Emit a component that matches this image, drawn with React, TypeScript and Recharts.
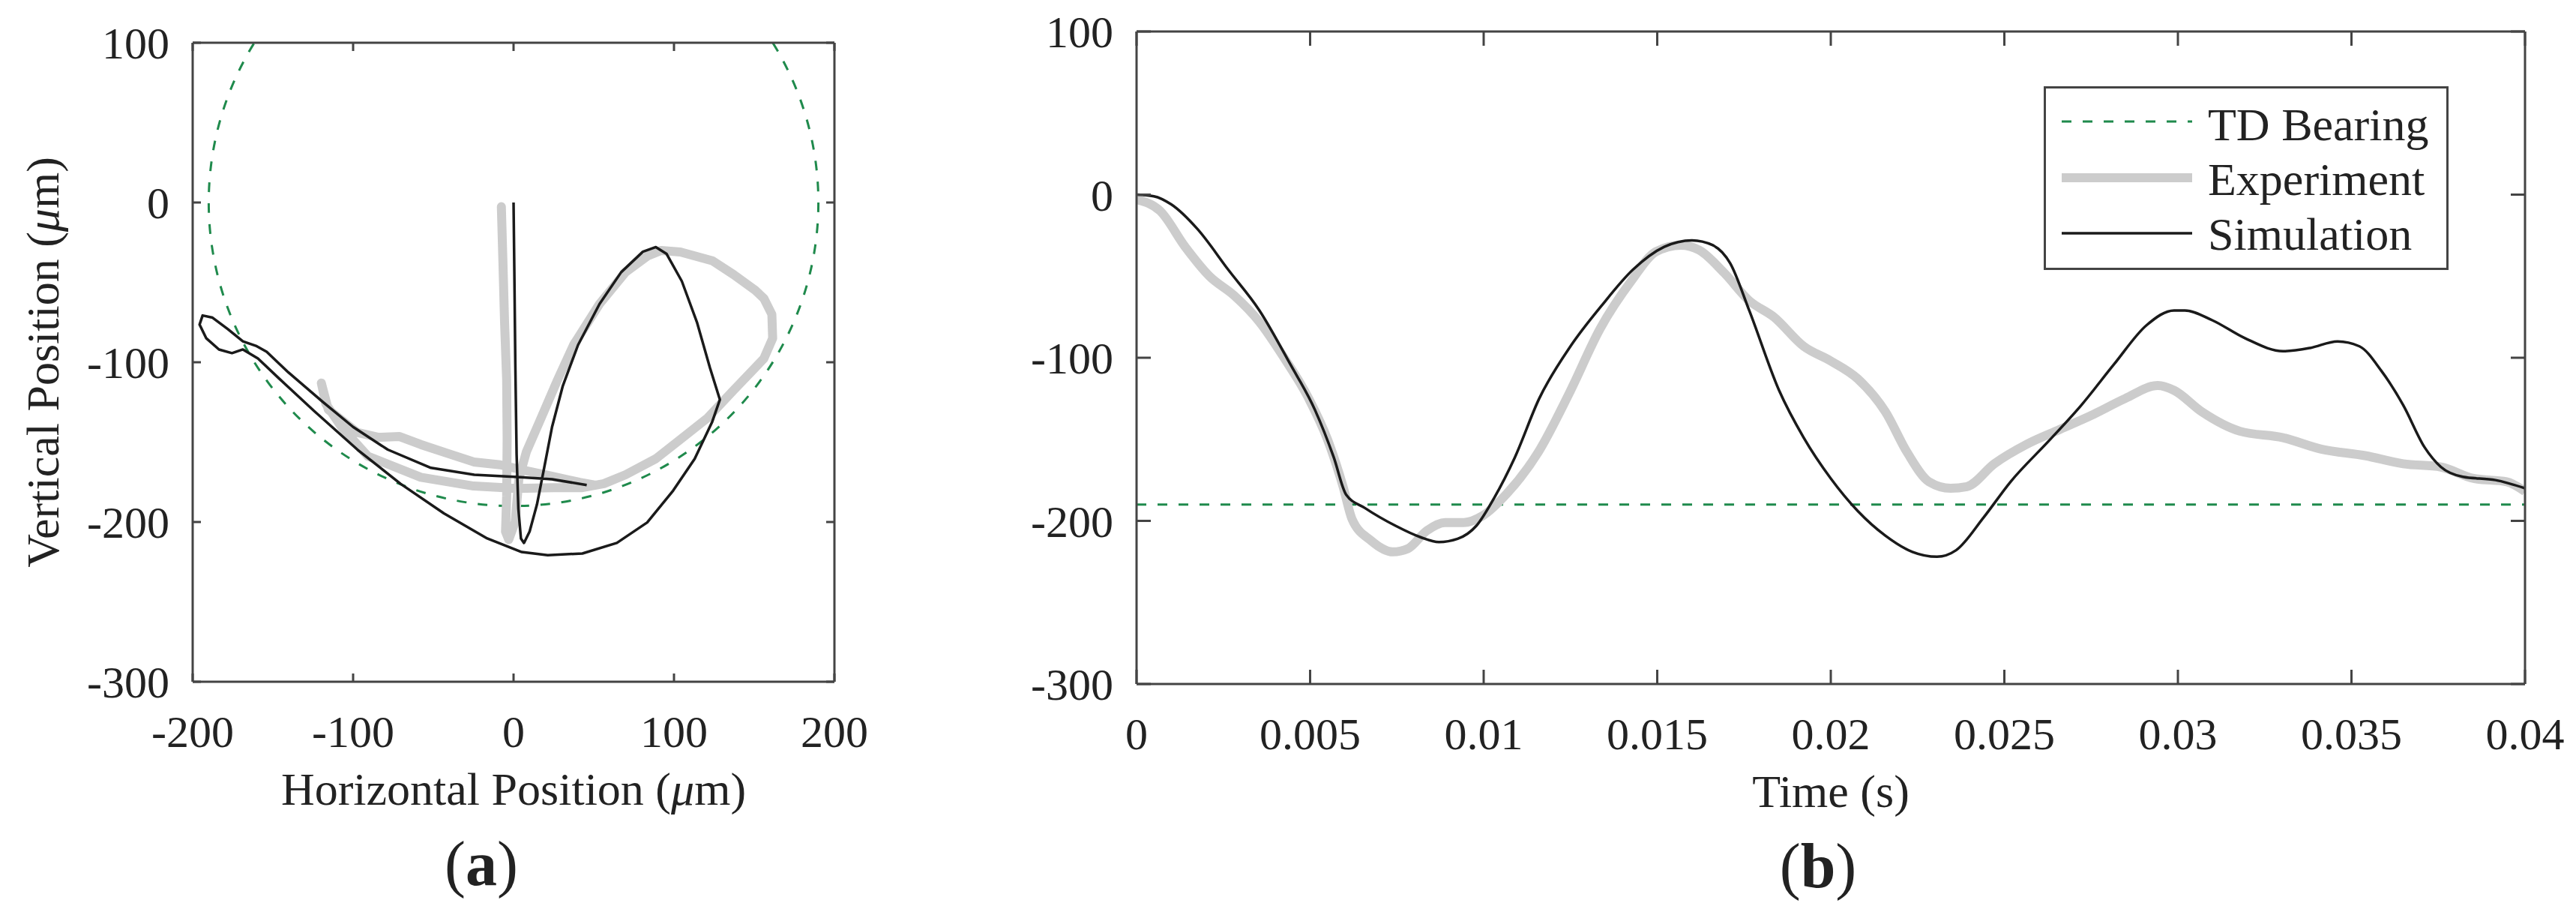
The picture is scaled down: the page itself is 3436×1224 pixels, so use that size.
import React from 'react';
import { LineChart, Line, XAxis, YAxis, ReferenceArea, ReferenceLine, Legend } from 'recharts';

// ---------- styling constants ----------
const FONT = '"Liberation Serif", "Times New Roman", Times, serif';
const TEXT = '#222222';
const AXIS = '#444444';
const GREEN = '#1f8a4c';
const GRAY = '#cccccc';
const BLACK = '#1a1a1a';

// ---------- data ----------
const BEARING_RADIUS = 190; // TD bearing clearance (µm)

const POS_X_TICKS = [-200, -100, 0, 100, 200];
const POS_Y_TICKS = [-300, -200, -100, 0, 100];
const TIME_TICKS = [0, 0.005, 0.01, 0.015, 0.02, 0.025, 0.03, 0.035, 0.04];

// (a) orbit – experiment
const EXP_ORBIT_X = [-7.6, -6.6, -5.6, -4.3, -4, -4.3, -5, -3, 1, 3.3, 8, 16, 27, 37.5, 53.6, 69.8, 83.3, 92, 104, 124, 137, 150.7, 156, 161, 161.5, 156, 137, 121, 104.9, 88.7, 69.8, 56.3, 42.9, 24.8, 2.4, -24.8, -57.8, -90.8, -107.3, -117, -119.8, -115.5, -97.4, -84.2, -71, -57.8, -41.3, -24.8, -8.3, 8.3, 24.8, 41.3, 51];
const EXP_ORBIT_Y = [-2.6, -38, -75, -111, -148, -184, -206, -211, -200, -173, -156, -137.6, -112, -89, -63.5, -43.6, -33.6, -30, -31, -36.5, -45, -55, -60, -70, -85, -97.7, -117.7, -134.8, -147.6, -160.4, -170.4, -176, -178.5, -178.5, -179, -177.5, -172, -158.8, -140.5, -126, -113, -129.6, -144, -147, -146.5, -151.5, -157, -162.4, -164.2, -168, -171.5, -175.2, -177];

// (a) orbit – simulation
const SIM_ORBIT_X = [0, 0.5, 1.1, 1.9, 3.0, 4.6, 6.5, 10, 14.6, 19.1, 24, 30.7, 40.2, 53.6, 67.1, 80.6, 88.7, 95.4, 104.9, 114.3, 122.4, 128.6, 123.7, 112.9, 99.5, 83.3, 64.4, 42.9, 21.3, 5.1, -16.4, -43.4, -70.4, -97.3, -124.3, -145.8, -159.3, -168.7, -175.5, -183.6, -191.6, -195.7, -193.8, -187.6, -178.2, -168.7, -160.6, -153.9, -140.4, -118.9, -100, -78.4, -51.5, -24.5, 2.4, 24, 45.6];
const SIM_ORBIT_Y = [0, -43.6, -100.6, -157.5, -191.7, -210.3, -213.1, -206, -189, -166, -140.5, -114.8, -89.2, -63.5, -43.6, -30.8, -27.9, -32.2, -49.3, -74.9, -103.4, -123.4, -137.6, -160.4, -180.3, -200.3, -213.1, -219.7, -220.8, -218.8, -210.3, -194.6, -176.1, -154.7, -130.5, -110.5, -97.7, -92, -94.3, -92, -84.9, -76.4, -70.7, -72.1, -79.2, -86.9, -89.7, -93.4, -106.3, -124.8, -140.5, -154.7, -166.1, -170.4, -171.8, -173.2, -176.9];

// (b) vertical position vs time – experiment
const EXP_TIME = [0, 0.00068, 0.0014, 0.0021, 0.00282, 0.00354, 0.00425, 0.00496, 0.0055, 0.00595, 0.00621, 0.00675, 0.00738, 0.00782, 0.00836, 0.00889, 0.00943, 0.00996, 0.01068, 0.01157, 0.01246, 0.01336, 0.01425, 0.01496, 0.01568, 0.01621, 0.01693, 0.01765, 0.01836, 0.01922, 0.02, 0.02078, 0.02157, 0.0222, 0.02283, 0.02345, 0.02392, 0.02471, 0.02565, 0.02659, 0.02754, 0.02848, 0.02942, 0.02989, 0.03068, 0.03178, 0.03303, 0.03413, 0.03539, 0.03649, 0.03758, 0.03852, 0.03947, 0.04];
const EXP_VERT = [-3, -10, -32, -50, -62, -78, -100, -125, -150, -179, -199, -212, -219, -217, -206, -201, -201, -197, -183, -158, -122, -82, -53, -35, -31, -34, -48, -65, -75, -93, -102, -113, -133, -158, -176, -180, -179, -165, -153, -144, -135, -125, -117, -120, -133, -145, -149, -156, -160, -165, -167, -174, -176, -182];

// (b) vertical position vs time – simulation
const SIM_TIME = [0, 0.0005, 0.001, 0.00175, 0.00264, 0.00354, 0.00443, 0.00514, 0.00568, 0.00604, 0.00657, 0.00746, 0.00818, 0.00871, 0.00925, 0.00979, 0.0103, 0.0109, 0.0116, 0.0125, 0.0134, 0.0143, 0.0152, 0.016, 0.0166, 0.0171, 0.01765, 0.01851, 0.01922, 0.02, 0.02078, 0.02157, 0.02235, 0.02306, 0.02361, 0.0244, 0.02518, 0.02628, 0.02722, 0.02816, 0.0291, 0.02989, 0.0302, 0.03099, 0.03193, 0.03303, 0.03381, 0.0346, 0.03523, 0.03586, 0.03649, 0.03711, 0.03758, 0.03821, 0.03915, 0.04];
const SIM_VERT = [0, -1, -6, -21, -46, -71, -104, -132, -161, -184, -192, -203, -210, -213, -211, -203, -186, -161, -125, -93, -68, -46, -32, -28, -31, -42, -71, -120, -149, -174, -194, -209, -219, -222, -218, -198, -176, -151, -129, -104, -80, -71, -71, -77, -88, -96, -94, -90, -93, -108, -129, -155, -167, -173, -175, -180];

const LEGEND_ITEMS = [
  { label: 'TD Bearing', kind: 'bearing' },
  { label: 'Experiment', kind: 'experiment' },
  { label: 'Simulation', kind: 'simulation' },
];

// ---------- built tables ----------
const zip = (xs: number[], ys: number[]) => xs.map((x, i) => ({ x, y: ys[i] }));
const expOrbit = zip(EXP_ORBIT_X, EXP_ORBIT_Y);
const simOrbit = zip(SIM_ORBIT_X, SIM_ORBIT_Y);
const expTime = zip(EXP_TIME, EXP_VERT);
const simTime = zip(SIM_TIME, SIM_VERT);

const LINE_STYLES: Record<string, any> = {
  bearing: { stroke: GREEN, strokeWidth: 3, strokeDasharray: '13 15' },
  experiment: { stroke: GRAY, strokeWidth: 12 },
  simulation: { stroke: BLACK, strokeWidth: 3.5 },
};

const TICK_FONT = 60;
const TITLE_FONT = 62;

// ---------- tick renderers (MATLAB style, inward) ----------
const makeTick = (side: 'bottom' | 'left' | 'top' | 'right', len: number, label: boolean) => (props: any) => {
  const { x, y, payload } = props;
  const v = String(payload.value);
  const common = { stroke: AXIS, strokeWidth: 3 };
  if (side === 'bottom') {
    return (
      <g>
        <line x1={x} y1={y} x2={x} y2={y - len} {...common} />
        {label && (
          <text x={x} y={y + 87} textAnchor="middle" fontFamily={FONT} fontSize={TICK_FONT} fill={TEXT}>{v}</text>
        )}
      </g>
    );
  }
  if (side === 'left') {
    return (
      <g>
        <line x1={x} y1={y} x2={x + len} y2={y} {...common} />
        {label && (
          <text x={x - 31} y={y + 21} textAnchor="end" fontFamily={FONT} fontSize={TICK_FONT} fill={TEXT}>{v}</text>
        )}
      </g>
    );
  }
  if (side === 'top') {
    return <line x1={x} y1={y} x2={x} y2={y + len} {...common} />;
  }
  return <line x1={x} y1={y} x2={x - len} y2={y} {...common} />;
};

const XTitle = (props: any) => {
  const { viewBox, title, panel, panelShift } = props;
  const cx = viewBox.x + viewBox.width / 2;
  return (
    <g>
      <text x={cx} y={viewBox.y + 164} textAnchor="middle" fontFamily={FONT} fontSize={TITLE_FONT} fill={TEXT}>
        {title}
      </text>
      <text x={cx + panelShift} y={viewBox.y + 271} textAnchor="middle" fontFamily={FONT} fontSize={84} fill={TEXT}>
        <tspan>(</tspan>
        <tspan fontWeight="bold">{panel}</tspan>
        <tspan>)</tspan>
      </text>
    </g>
  );
};

const YTitle = (props: any) => {
  const { viewBox } = props;
  const bx = viewBox.x + 78;
  const cy = viewBox.y + viewBox.height / 2;
  return (
    <text x={bx} y={cy} transform={`rotate(-90 ${bx} ${cy})`} textAnchor="middle" fontFamily={FONT} fontSize={TITLE_FONT} fill={TEXT}>
      Vertical Position (<tspan fontStyle="italic">μ</tspan>m)
    </text>
  );
};

const EllipseShape = (props: any) => {
  const { x, y, width, height } = props;
  return (
    <ellipse cx={x + width / 2} cy={y + height / 2} rx={Math.abs(width) / 2} ry={Math.abs(height) / 2}
      fill="none" {...LINE_STYLES.bearing} clipPath={props.clipPath} />
  );
};

const LegendBox = () => {
  const rows = [47, 122, 196];
  const baselines = [72, 145, 218];
  return (
    <svg width={540} height={245} style={{ display: 'block' }}>
      <rect x={1.5} y={1.5} width={537} height={242} fill="#fff" stroke={AXIS} strokeWidth={3} />
      {LEGEND_ITEMS.map((it, i) => (
        <g key={it.label}>
          <line x1={24} x2={198} y1={rows[i]} y2={rows[i]} {...LINE_STYLES[it.kind]} />
          <text x={219} y={baselines[i]} fontFamily={FONT} fontSize={TITLE_FONT} fill={TEXT}>{it.label}</text>
        </g>
      ))}
    </svg>
  );
};

export default function App() {
  return (
    <div style={{ position: 'absolute', left: 0, top: 0, width: 3436, height: 1224, background: '#fff', overflow: 'hidden' }}>
      {/* (a) orbit plot */}
      <div style={{ position: 'absolute', left: 0, top: 0 }}>
        <LineChart width={1200} height={1224} margin={{ top: 56, right: 86, bottom: 0, left: 0 }}>
          <XAxis xAxisId={0} dataKey="x" type="number" domain={[-200, 200]} ticks={POS_X_TICKS} allowDataOverflow
            interval={0} height={315} tickSize={0} tickMargin={0} tickLine={false}
            axisLine={{ stroke: AXIS, strokeWidth: 3 }} tick={makeTick('bottom', 11, true)}
            label={<XTitle title={<>Horizontal Position (<tspan fontStyle="italic">μ</tspan>m)</>} panel="a" panelShift={-43} />} />
          <XAxis xAxisId="top" orientation="top" dataKey="x" type="number" domain={[-200, 200]} ticks={POS_X_TICKS} allowDataOverflow
            interval={0} height={1} tickSize={0} tickMargin={0} tickLine={false}
            axisLine={{ stroke: AXIS, strokeWidth: 3 }} tick={makeTick('top', 11, false)} />
          <YAxis yAxisId={0} type="number" domain={[-300, 100]} ticks={POS_Y_TICKS} allowDataOverflow
            interval={0} width={257} tickSize={0} tickMargin={0} tickLine={false}
            axisLine={{ stroke: AXIS, strokeWidth: 3 }} tick={makeTick('left', 11, true)}
            label={<YTitle />} />
          <YAxis yAxisId="right" orientation="right" type="number" domain={[-300, 100]} ticks={POS_Y_TICKS} allowDataOverflow
            interval={0} width={1} tickSize={0} tickMargin={0} tickLine={false}
            axisLine={{ stroke: AXIS, strokeWidth: 3 }} tick={makeTick('right', 11, false)} />
          <ReferenceArea xAxisId={0} yAxisId={0} x1={-BEARING_RADIUS} x2={BEARING_RADIUS} y1={-BEARING_RADIUS} y2={BEARING_RADIUS}
            ifOverflow="hidden" shape={<EllipseShape />} />
          <Line xAxisId={0} yAxisId={0} data={expOrbit} dataKey="y" type="linear" dot={false} activeDot={false}
            isAnimationActive={false} strokeLinejoin="round" strokeLinecap="round" {...LINE_STYLES.experiment} />
          <Line xAxisId={0} yAxisId={0} data={simOrbit} dataKey="y" type="linear" dot={false} activeDot={false}
            isAnimationActive={false} strokeLinejoin="round" {...LINE_STYLES.simulation} />
        </LineChart>
      </div>

      {/* (b) time history */}
      <div style={{ position: 'absolute', left: 1200, top: 0 }}>
        <LineChart width={2236} height={1224} margin={{ top: 41, right: 67, bottom: 0, left: 0 }}>
          <XAxis xAxisId={0} dataKey="x" type="number" domain={[0, 0.04]} ticks={TIME_TICKS} allowDataOverflow
            interval={0} height={312} tickSize={0} tickMargin={0} tickLine={false}
            axisLine={{ stroke: AXIS, strokeWidth: 3 }} tick={makeTick('bottom', 19, true)}
            label={<XTitle title="Time (s)" panel="b" panelShift={-17} />} />
          <XAxis xAxisId="top" orientation="top" dataKey="x" type="number" domain={[0, 0.04]} ticks={TIME_TICKS} allowDataOverflow
            interval={0} height={1} tickSize={0} tickMargin={0} tickLine={false}
            axisLine={{ stroke: AXIS, strokeWidth: 3 }} tick={makeTick('top', 19, false)} />
          <YAxis yAxisId={0} type="number" domain={[-300, 100]} ticks={POS_Y_TICKS} allowDataOverflow
            interval={0} width={316} tickSize={0} tickMargin={0} tickLine={false}
            axisLine={{ stroke: AXIS, strokeWidth: 3 }} tick={makeTick('left', 19, true)} />
          <YAxis yAxisId="right" orientation="right" type="number" domain={[-300, 100]} ticks={POS_Y_TICKS} allowDataOverflow
            interval={0} width={1} tickSize={0} tickMargin={0} tickLine={false}
            axisLine={{ stroke: AXIS, strokeWidth: 3 }} tick={makeTick('right', 19, false)} />
          <ReferenceLine xAxisId={0} yAxisId={0} y={-BEARING_RADIUS} {...LINE_STYLES.bearing} />
          <Line xAxisId={0} yAxisId={0} data={expTime} dataKey="y" type="monotone" dot={false} activeDot={false}
            isAnimationActive={false} strokeLinejoin="round" {...LINE_STYLES.experiment} />
          <Line xAxisId={0} yAxisId={0} data={simTime} dataKey="y" type="monotone" dot={false} activeDot={false}
            isAnimationActive={false} strokeLinejoin="round" {...LINE_STYLES.simulation} />
          <Legend layout="vertical" align="center" verticalAlign="middle" content={<LegendBox />}
            wrapperStyle={{ left: 1526, top: 115, width: 540, height: 245 }} />
        </LineChart>
      </div>
    </div>
  );
}
